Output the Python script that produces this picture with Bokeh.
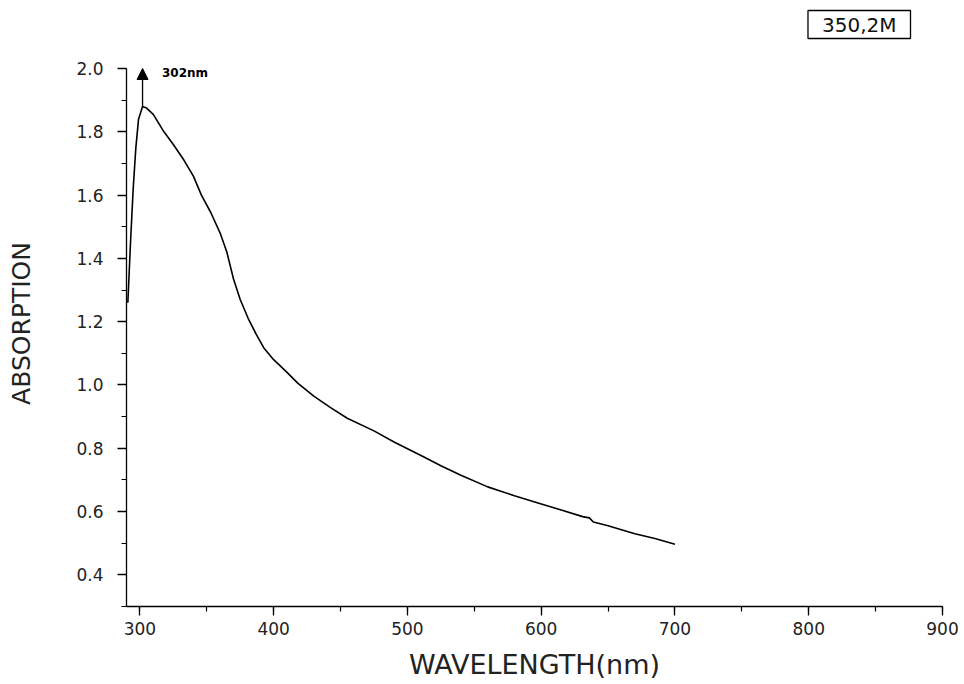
from bokeh.plotting import figure
from bokeh.models import (Range1d, SingleIntervalTicker, Arrow, Title, Label,
                          NormalHead, ColumnDataSource, CustomJSTickFormatter)
from bokeh.embed import file_html
from bokeh.resources import INLINE

# Absorption spectrum of the 350,2M sample
wavelength = [291, 293, 295, 297, 299, 302, 305, 310, 318, 325, 333, 340,
              346, 353, 360, 365, 370, 375, 381, 387, 393, 400, 410, 418,
              430, 442, 455, 475, 490, 512, 525, 540, 560, 580, 597, 615,
              631, 636, 639, 650, 670, 685, 700]
absorption = [1.26, 1.45, 1.62, 1.75, 1.84, 1.88, 1.875, 1.855, 1.80, 1.76,
              1.71, 1.66, 1.60, 1.545, 1.48, 1.42, 1.335, 1.27, 1.21, 1.16,
              1.115, 1.08, 1.04, 1.006, 0.965, 0.93, 0.895, 0.855, 0.82,
              0.773, 0.745, 0.715, 0.678, 0.65, 0.628, 0.605, 0.584, 0.580,
              0.567, 0.555, 0.53, 0.515, 0.497]

peak_wavelength = 302
peak_absorption = 1.88
peak_label = "302nm"
sample_label = "350,2M"

FONT = "DejaVu Sans"

# a little headroom above 2.0 for the peak arrow; the axes stop at 2.0
p = figure(width=964, height=684, output_backend="svg", toolbar_location=None,
           x_range=Range1d(290, 900), y_range=Range1d(0.3, 2.0885),
           min_border_left=126, min_border_right=22,
           min_border_top=40, min_border_bottom=78)
p.outline_line_color = None
p.xgrid.visible = False
p.ygrid.visible = False
p.background_fill_color = "white"
p.border_fill_color = "white"

src = ColumnDataSource(dict(x=wavelength, y=absorption))
p.line("x", "y", source=src, line_color="black", line_width=1.6)

# peak marker
p.add_layout(Arrow(x_start=peak_wavelength, y_start=peak_absorption,
                   x_end=peak_wavelength, y_end=2.0,
                   line_color="black", line_width=1.3,
                   end=NormalHead(size=11, fill_color="black", line_color="black")))
p.add_layout(Label(x=316.5, y=1.987, text=peak_label, text_font=FONT,
                   text_font_size="12px", text_font_style="bold",
                   text_color="black", text_baseline="middle"))

# boxed sample tag in the top-right corner
p.add_layout(Title(text=sample_label, align="right", offset=32, standoff=4,
                   text_font=FONT, text_font_size="20px",
                   text_font_style="normal", text_color="#111",
                   border_line_color="black", border_line_width=1.3,
                   background_fill_color="white", padding=(14, 2)), "above")

for ax, interval, bounds in ((p.xaxis, 100, (290, 900)),
                             (p.yaxis, 0.2, (0.3, 2.0))):
    ax.ticker = SingleIntervalTicker(interval=interval, num_minor_ticks=2)
    ax.bounds = bounds
    ax.axis_line_color = "black"
    ax.axis_line_width = 1.3
    ax.major_tick_line_color = "black"
    ax.major_tick_line_width = 1.3
    ax.minor_tick_line_color = "black"
    ax.minor_tick_line_width = 1.2
    ax.major_tick_in = 0
    ax.major_tick_out = 9
    ax.minor_tick_in = 0
    ax.minor_tick_out = 5
    ax.major_label_text_font = FONT
    ax.major_label_text_font_size = "17px"
    ax.major_label_text_color = "#222"
    ax.axis_label_text_font = FONT
    ax.axis_label_text_font_style = "normal"
    ax.axis_label_text_color = "#222"

p.xaxis.axis_label = "WAVELENGTH(nm)"
p.xaxis.axis_label_text_font_size = "27px"
p.xaxis.major_label_standoff = 6
p.xaxis.axis_label_standoff = 11

p.yaxis.axis_label = "ABSORPTION"
p.yaxis.axis_label_text_font_size = "25px"
p.yaxis.major_label_standoff = 14
p.yaxis.axis_label_standoff = 37
p.yaxis.formatter = CustomJSTickFormatter(code="return tick.toFixed(1);")

open("out.html", "w").write(file_html(p, INLINE))
